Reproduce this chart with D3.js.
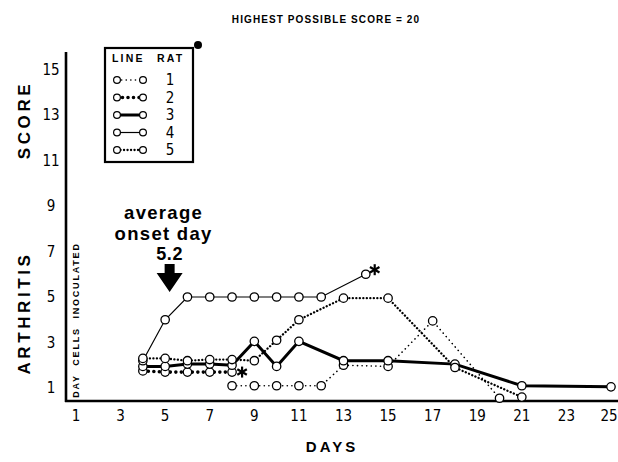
<!DOCTYPE html>
<html><head><meta charset="utf-8">
<script src="https://cdn.jsdelivr.net/npm/d3@7"></script>
<style>
html,body{margin:0;padding:0;background:#fff;}
svg{display:block;}
.tick{font-family:"Liberation Sans Narrow","DejaVu Sans Condensed","Liberation Sans",sans-serif;font-size:15px;fill:#000;}
.bold{font-family:"Liberation Sans","DejaVu Sans",sans-serif;font-weight:bold;fill:#000;}
</style></head>
<body>
<script>
// ---- data ----
const xTicks = [1,3,5,7,9,11,13,15,17,19,21,23,25];
const yTicks = [1,3,5,7,9,11,13,15];
const rats = ["1","2","3","4","5"];
const days1 = [8,9,10,11,12,13,15,17,20];
const vals1 = [1.1,1.1,1.1,1.1,1.1,2.0,1.95,3.95,0.55];
const days2 = [4,5,6,7,8];
const vals2 = [1.75,1.7,1.7,1.7,1.7];
const days3 = [4,5,6,7,8,9,10,11,13,15,18,21,25];
const vals3 = [1.95,1.95,2.05,2.05,2.0,3.05,1.95,3.05,2.2,2.2,2.05,1.1,1.05];
const days4 = [4,5,6,7,8,9,10,11,12,14];
const vals4 = [2.2,4,5,5,5,5,5,5,5,6];
const days5 = [4,5,6,7,8,9,10,11,13,15,18,21];
const vals5 = [2.3,2.3,2.2,2.25,2.25,2.2,3.1,4.0,4.95,4.95,1.9,0.6];
const deaths = [{rat:"2", day:8.45, val:1.7},{rat:"4", day:14.4, val:6.2}];
const onsetDay = 5.2;

const W=618,H=462;
const svg=d3.select("body").append("svg").attr("width",W).attr("height",H);
const x=d3.scaleLinear().domain([1,25]).range([76,611]);
const y=d3.scaleLinear().domain([1,15]).range([388,69.5]);

const styles = {
 "1":{w:1.6,dash:"0.1,4.5",cap:"round"},
 "2":{w:3.6,dash:"0,5.5",cap:"round"},
 "3":{w:3,dash:null,cap:"butt"},
 "4":{w:1.2,dash:null,cap:"butt"},
 "5":{w:2.3,dash:"0.1,3.4",cap:"round"}
};
const series=[
 {rat:"1",d:days1,v:vals1},
 {rat:"2",d:days2,v:vals2},
 {rat:"3",d:days3,v:vals3},
 {rat:"4",d:days4,v:vals4},
 {rat:"5",d:days5,v:vals5}
];

// title
svg.append("text").attr("class","bold").attr("x",326).attr("y",23)
 .attr("text-anchor","middle").style("font-size","10px").style("letter-spacing","1.1px")
 .text("HIGHEST POSSIBLE SCORE = 20");

// axes
svg.append("line").attr("x1",66).attr("x2",66).attr("y1",52).attr("y2",402).attr("stroke","#000").attr("stroke-width",2.6);
svg.append("line").attr("x1",65).attr("x2",618).attr("y1",401).attr("y2",401).attr("stroke","#000").attr("stroke-width",2.6);

svg.selectAll(".xt").data(xTicks).enter().append("text").attr("class","tick")
 .attr("x",d=>Math.min(x(d),W-9)).attr("y",416).attr("text-anchor","middle").attr("dominant-baseline","central").text(d=>d);
svg.selectAll(".yt").data(yTicks).enter().append("text").attr("class","tick")
 .attr("x",51).attr("y",d=>y(d)).attr("text-anchor","middle").attr("dominant-baseline","central").text(d=>d);

// axis titles
svg.append("text").attr("class","bold").attr("x",332).attr("y",452).attr("text-anchor","middle")
 .style("font-size","15px").style("letter-spacing","3px").text("DAYS");
svg.append("text").attr("class","bold").attr("transform","translate(24,313) rotate(-90)")
 .attr("text-anchor","middle").attr("dominant-baseline","central")
 .style("font-size","17px").style("letter-spacing","3.6px").text("ARTHRITIS");
svg.append("text").attr("class","bold").attr("transform","translate(24,120) rotate(-90)")
 .attr("text-anchor","middle").attr("dominant-baseline","central")
 .style("font-size","17px").style("letter-spacing","3.6px").text("SCORE");
svg.append("text").attr("class","bold").attr("transform","translate(76,320) rotate(-90)")
 .attr("text-anchor","middle").attr("dominant-baseline","central")
 .style("font-size","9px").style("letter-spacing","1.8px").attr("xml:space","preserve").text("DAY  CELLS  INOCULATED");

// lines
const line=d3.line().x(p=>x(p[0])).y(p=>y(p[1]));
series.forEach(s=>{
 const pts=s.d.map((d,i)=>[d,s.v[i]]);
 const st=styles[s.rat];
 svg.append("path").attr("d",line(pts)).attr("fill","none").attr("stroke","#000")
  .attr("stroke-width",st.w).attr("stroke-dasharray",st.dash).attr("stroke-linecap",st.cap);
});
series.forEach(s=>{
 svg.selectAll(null).data(s.d.map((d,i)=>[d,s.v[i]])).enter().append("circle")
  .attr("cx",p=>x(p[0])).attr("cy",p=>y(p[1])).attr("r",4.2)
  .attr("fill","#fff").attr("stroke","#000").attr("stroke-width",1.3);
});

// asterisks
function asterisk(cx,cy,r){
 const g=svg.append("g").attr("transform",`translate(${cx},${cy})`);
 for(let k=0;k<3;k++){
  const a=Math.PI/2+k*Math.PI/3;
  g.append("line").attr("x1",-r*Math.cos(a)).attr("y1",-r*Math.sin(a)).attr("x2",r*Math.cos(a)).attr("y2",r*Math.sin(a))
   .attr("stroke","#000").attr("stroke-width",2.2);
 }
}
deaths.forEach(dd=>asterisk(x(dd.day),y(dd.val),5.5));

// onset annotation
const ox=x(onsetDay);
svg.append("text").attr("class","bold").attr("x",ox-6).attr("y",219).attr("text-anchor","middle")
 .style("font-size","18.5px").style("letter-spacing","1.3px").text("average");
svg.append("text").attr("class","bold").attr("x",ox-6).attr("y",240).attr("text-anchor","middle")
 .style("font-size","18.5px").style("letter-spacing","1.3px").text("onset day");
svg.append("text").attr("class","bold").attr("x",ox).attr("y",260).attr("text-anchor","middle")
 .style("font-size","18px").style("letter-spacing","0.6px").text(onsetDay);
svg.append("path").attr("fill","#000")
 .attr("d",`M${ox-5},264 L${ox+5},264 L${ox+5},273 L${ox+13},273 L${ox},292 L${ox-13},273 L${ox-5},273 Z`);

// legend
const lg=svg.append("g");
lg.append("rect").attr("x",105).attr("y",48).attr("width",88).attr("height",114)
 .attr("fill","#fff").attr("stroke","#000").attr("stroke-width",2.2);
lg.append("text").attr("class","bold").attr("x",112).attr("y",62).style("font-size","10.5px").style("letter-spacing","2.2px").text("LINE");
lg.append("text").attr("class","bold").attr("x",157).attr("y",62).style("font-size","10.5px").style("letter-spacing","2.2px").text("RAT");
const ly=d3.scalePoint().domain(rats).range([80,150]);
rats.forEach(r=>{
 const st=styles[r];
 lg.append("line").attr("x1",117).attr("x2",143).attr("y1",ly(r)).attr("y2",ly(r)).attr("stroke","#000")
  .attr("stroke-width",st.w).attr("stroke-dasharray",st.dash).attr("stroke-linecap",st.cap);
 [117,143].forEach(cx=>lg.append("circle").attr("cx",cx).attr("cy",ly(r)).attr("r",3.4)
  .attr("fill","#fff").attr("stroke","#000").attr("stroke-width",1.2));
 lg.append("text").attr("class","tick").attr("x",170).attr("y",ly(r)).attr("text-anchor","middle")
  .attr("dominant-baseline","central").style("font-size","15px").text(r);
});
lg.append("circle").attr("cx",198).attr("cy",45).attr("r",4).attr("fill","#000");
</script>
</body></html>
